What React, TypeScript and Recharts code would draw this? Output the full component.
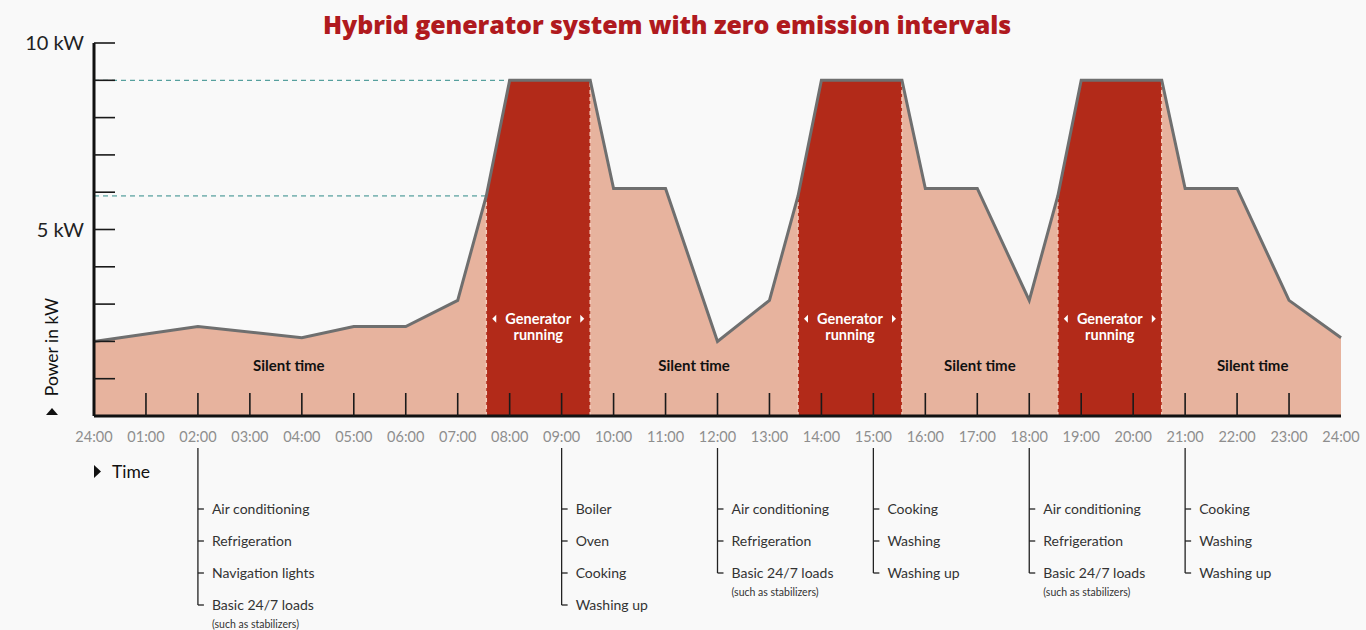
import React from "react";
import {
  ComposedChart,
  Area,
  Line,
  XAxis,
  YAxis,
  ReferenceLine,
  ReferenceDot,
} from "recharts";

// load profile vertices (hour of day, kW)
const hours = [0, 2, 4, 5, 6, 7, 7.55, 8, 9.55, 10, 11, 12, 13, 13.55, 14, 15.55, 16, 17, 18, 18.55, 19, 20.55, 21, 22, 23, 24];
const loadKw = [2.0, 2.4, 2.1, 2.4, 2.4, 3.1, 5.9, 9.0, 9.0, 6.1, 6.1, 2.0, 3.1, 5.9, 9.0, 9.0, 6.1, 6.1, 3.1, 5.9, 9.0, 9.0, 6.1, 6.1, 3.1, 2.1];

// generator on / off
const generatorRuns: [number, number][] = [
  [7.55, 9.55],
  [13.55, 15.55],
  [18.55, 20.55],
];

const hourTicks = [0, 1, 2, 3, 4, 5, 6, 7, 8, 9, 10, 11, 12, 13, 14, 15, 16, 17, 18, 19, 20, 21, 22, 23, 24];
const timeLabels = [
  "24:00", "01:00", "02:00", "03:00", "04:00", "05:00", "06:00", "07:00", "08:00",
  "09:00", "10:00", "11:00", "12:00", "13:00", "14:00", "15:00", "16:00", "17:00",
  "18:00", "19:00", "20:00", "21:00", "22:00", "23:00", "24:00",
];
const kwTicks = [0, 1, 2, 3, 4, 5, 6, 7, 8, 9, 10];

const loadNotes = [
  { hour: 2, items: ["Air conditioning", "Refrigeration", "Navigation lights", "Basic 24/7 loads"], note: "(such as stabilizers)" },
  { hour: 9, items: ["Boiler", "Oven", "Cooking", "Washing up"], note: "" },
  { hour: 12, items: ["Air conditioning", "Refrigeration", "Basic 24/7 loads"], note: "(such as stabilizers)" },
  { hour: 15, items: ["Cooking", "Washing", "Washing up"], note: "" },
  { hour: 18, items: ["Air conditioning", "Refrigeration", "Basic 24/7 loads"], note: "(such as stabilizers)" },
  { hour: 21, items: ["Cooking", "Washing", "Washing up"], note: "" },
];

const silentSpots = [3.75, 11.55, 17.05, 22.3];

const FONT = "Lato, 'Open Sans', sans-serif";
const LIGHT = "#E7B39E";
const DARK = "#B22A19";

const inRun = (h: number) => generatorRuns.some(([a, b]) => h >= a && h <= b);

const rows = hours.map((h, i) => ({
  h,
  load: loadKw[i],
  gen: inRun(h) ? loadKw[i] : null,
}));

const loadAt = (h: number) => loadKw[hours.indexOf(h)];

function XTick({ x, y, payload }: any) {
  const h = payload.value;
  return (
    <g>
      {h > 0 && h < 24 && (
        <line x1={x} x2={x} y1={y} y2={y - 23} stroke="#1a1a1a" strokeWidth={1.6} />
      )}
      <text x={x} y={y + 26} textAnchor="middle" fill="#8e8e8e" fontSize={14.5} fontFamily={FONT}>
        {timeLabels[h]}
      </text>
    </g>
  );
}

function YTick({ x, y, payload }: any) {
  const v = payload.value;
  return (
    <g>
      {v > 0 && <line x1={x} x2={x + 21} y1={y} y2={y} stroke="#1a1a1a" strokeWidth={1.6} />}
      {(v === 10 || v === 5) && (
        <text x={x - 10} y={y + 7} textAnchor="end" fontSize={20} fill="#222" fontFamily={FONT}>
          {v} kW
        </text>
      )}
    </g>
  );
}

function GenLabel({ cx, cy }: any) {
  return (
    <g fontFamily={FONT}>
      <polygon points={`${cx - 42},${cy - 9} ${cx - 42},${cy - 1} ${cx - 46},${cy - 5}`} fill="#fff" />
      <polygon points={`${cx + 42},${cy - 9} ${cx + 42},${cy - 1} ${cx + 46},${cy - 5}`} fill="#fff" />
      <text x={cx} y={cy} textAnchor="middle" fill="#fff" fontSize={14.5} fontWeight={700}>
        Generator
      </text>
      <text x={cx} y={cy + 16} textAnchor="middle" fill="#fff" fontSize={14.5} fontWeight={700}>
        running
      </text>
    </g>
  );
}

function SilentLabel({ cx, cy }: any) {
  return (
    <text x={cx} y={cy} textAnchor="middle" fill="#111" fontSize={15} fontWeight={700} fontFamily={FONT}>
      Silent time
    </text>
  );
}

function NoteList({ cx, cy, items, note }: any) {
  const top = cy + 32;
  const rowY = (i: number) => cy + 93 + i * 32;
  const last = rowY(items.length - 1);
  return (
    <g fontFamily={FONT}>
      <line x1={cx} x2={cx} y1={top} y2={last} stroke="#222" strokeWidth={1.3} />
      {items.map((t: string, i: number) => (
        <g key={t}>
          <line x1={cx} x2={cx + 6} y1={rowY(i)} y2={rowY(i)} stroke="#222" strokeWidth={1.3} />
          <text x={cx + 14} y={rowY(i) + 5} fontSize={14} fill="#333">
            {t}
          </text>
        </g>
      ))}
      {note && (
        <text x={cx + 14} y={last + 23} fontSize={10.5} fill="#333">
          {note}
        </text>
      )}
    </g>
  );
}

export default function App() {
  return (
    <div
      style={{
        position: "absolute",
        top: 0,
        left: 0,
        width: 1366,
        height: 630,
        background: "#f9f9f9",
        fontFamily: FONT,
      }}
    >
      <div
        style={{
          position: "absolute",
          top: 8,
          left: 0,
          width: 1334,
          textAlign: "center",
          color: "#B01A1E",
          fontSize: 25,
          fontWeight: 800,
          fontFamily: "'Open Sans', sans-serif",
          letterSpacing: -0.1,
          lineHeight: "32px",
        }}
      >
        Hybrid generator system with zero emission intervals
      </div>

      <svg
        width={1366}
        height={630}
        style={{ position: "absolute", top: 0, left: 0, pointerEvents: "none" }}
      >
        <text
          transform="translate(58,347) rotate(-90)"
          textAnchor="middle"
          fontSize={17.5}
          fill="#111"
          fontFamily={FONT}
        >
          Power in kW
        </text>
        <polygon points="46,415 58,415 52,408" fill="#111" />
        <polygon points="94,465 94,478 101,471.5" fill="#111" />
        <text x={112} y={478} fontSize={17.5} fill="#111" fontFamily={FONT}>
          Time
        </text>
      </svg>

      <div style={{ position: "absolute", top: 0, left: 0 }}>
        <ComposedChart
          width={1366}
          height={630}
          data={rows}
          margin={{ top: 43, right: 25, bottom: 184, left: 34 }}
        >
          <Area
            type="linear"
            dataKey="load"
            stroke="none"
            fill={LIGHT}
            fillOpacity={1}
            isAnimationActive={false}
          />
          <Area
            type="linear"
            dataKey="gen"
            stroke="none"
            fill={DARK}
            fillOpacity={1}
            connectNulls={false}
            isAnimationActive={false}
          />
          {generatorRuns.map(([a, b]) => [
            <ReferenceLine
              key={`s${a}`}
              segment={[{ x: a, y: 0 }, { x: a, y: loadAt(a) }]}
              stroke="#F4C9B8"
              strokeWidth={1.5}
              strokeDasharray="4 3"
            />,
            <ReferenceLine
              key={`e${b}`}
              segment={[{ x: b, y: 0 }, { x: b, y: loadAt(b) }]}
              stroke="#F4C9B8"
              strokeWidth={1.5}
              strokeDasharray="4 3"
            />,
          ])}
          <ReferenceLine
            segment={[{ x: 0, y: loadAt(8) }, { x: 8, y: loadAt(8) }]}
            stroke="#2E8A87"
            strokeWidth={1}
            strokeDasharray="5 4"
          />
          <ReferenceLine
            segment={[{ x: 0, y: loadAt(7.55) }, { x: 7.55, y: loadAt(7.55) }]}
            stroke="#2E8A87"
            strokeWidth={1}
            strokeDasharray="5 4"
          />
          <Line
            type="linear"
            dataKey="load"
            stroke="#6F6F6F"
            strokeWidth={3}
            dot={false}
            activeDot={false}
            isAnimationActive={false}
          />
          <XAxis
            type="number"
            dataKey="h"
            domain={[0, 24]}
            ticks={hourTicks}
            interval={0}
            height={30}
            tickSize={0}
            tickMargin={0}
            tickLine={false}
            axisLine={{ stroke: "#111", strokeWidth: 3 }}
            tick={<XTick />}
          />
          <YAxis
            type="number"
            domain={[0, 10]}
            ticks={kwTicks}
            interval={0}
            width={60}
            tickSize={0}
            tickMargin={0}
            tickLine={false}
            axisLine={{ stroke: "#111", strokeWidth: 3 }}
            tick={<YTick />}
          />
          {generatorRuns.map(([a, b]) => (
            <ReferenceDot
              key={`g${a}`}
              x={(a + b) / 2}
              y={2.47}
              r={0}
              ifOverflow="visible"
              shape={(p: any) => <GenLabel {...p} />}
            />
          ))}
          {silentSpots.map((h) => (
            <ReferenceDot
              key={`q${h}`}
              x={h}
              y={1.2}
              r={0}
              ifOverflow="visible"
              shape={(p: any) => <SilentLabel {...p} />}
            />
          ))}
          {loadNotes.map((n) => (
            <ReferenceDot
              key={`n${n.hour}`}
              x={n.hour}
              y={0}
              r={0}
              ifOverflow="visible"
              shape={(p: any) => <NoteList {...p} items={n.items} note={n.note} />}
            />
          ))}
        </ComposedChart>
      </div>
    </div>
  );
}
